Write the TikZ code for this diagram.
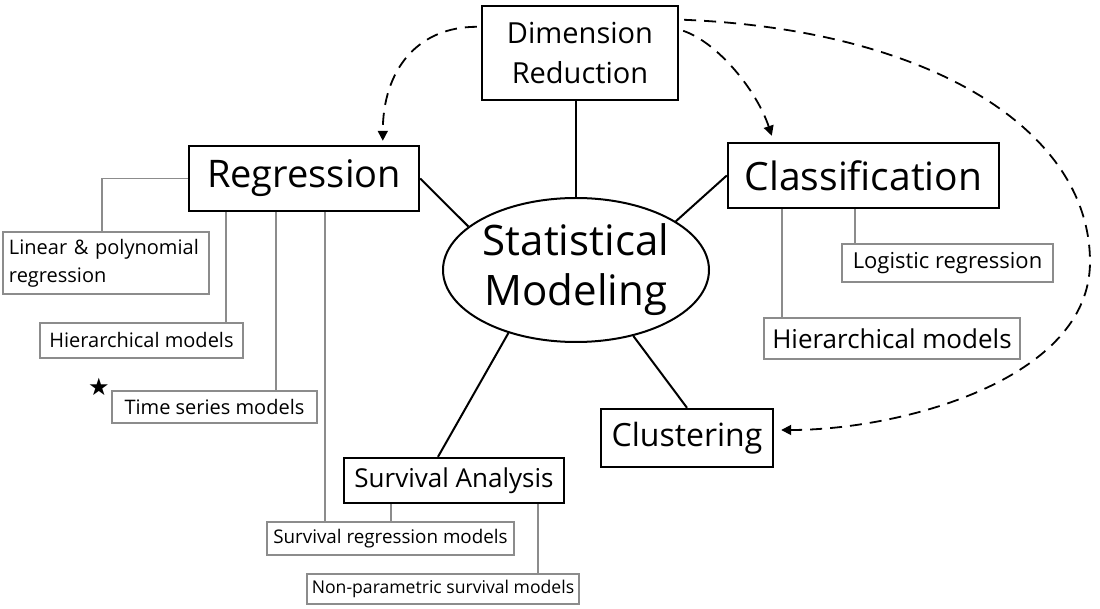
\documentclass[tikz,border=0pt]{standalone}
\usepackage{fontspec}
\setmainfont{Open Sans}
\newfontfamily\symfont{DejaVu Sans}
\usetikzlibrary{arrows.meta,positioning,calc,shapes.geometric}
\newcommand\fsz[2]{\fontsize{#1}{#2}\selectfont}
\tikzset{
  topic/.style={draw,line width=1.2pt,inner sep=0pt,align=center},
  leaf/.style={draw=black!45,line width=0.7pt,inner sep=0pt,align=center,font=\fsz{10}{14}},
  hub/.style={ellipse,draw,line width=1pt,inner sep=0pt,align=center},
  spoke/.style={line width=1pt},
  twig/.style={draw=black!45,line width=0.7pt},
  hint/.style={line width=0.9pt,dash pattern=on 6pt off 4pt,-{Triangle[length=5pt,width=5pt]}},
}

\begin{document}
\begin{tikzpicture}[x=0.5pt,y=-0.5pt]
  \fill[white] (0,0) rectangle (1100,609);
  \useasboundingbox (0,0) rectangle (1100,609);
  % centre and main topics
  \node[hub,minimum width=133pt,minimum height=72pt,font=\fsz{21}{25}] (stat) at (576,270) {Statistical\\Modeling};
  \node[topic,minimum width=98pt,minimum height=47pt,font=\fsz{14.5}{20}] (dimred) at (580,53) {Dimension\\Reduction};
  \node[topic,minimum width=115pt,minimum height=32.5pt,font=\fsz{19}{22}] (regr) at (304,178.5) {Regression};
  \node[topic,minimum width=135.5pt,minimum height=32.5pt,font=\fsz{19.5}{22}] (classif) at (863.5,175.5) {Classification};
  \node[topic,minimum width=86pt,minimum height=29pt,font=\fsz{16}{20}] (clust) at (687,438) {Clustering};
  \node[topic,minimum width=110pt,minimum height=22.5pt,font=\fsz{13}{15}] (survan) at (454,480.5) {Survival Analysis};
  % leaves
  \node[leaf,minimum width=103pt,minimum height=31pt,align=left,text width=97pt] (linreg) at (106,263) {Linear \& polynomial\\regression};
  \node[leaf,minimum width=101.5pt,minimum height=17.5pt] (hierL) at (141.5,340.5) {Hierarchical models};
  \node[leaf,minimum width=102.5pt,minimum height=16pt] (timeser) at (214.5,407) {Time series models};
  \node[leaf,minimum width=123.5pt,minimum height=16.5pt,font=\fsz{9.4}{12}] (survreg) at (390.5,538.5) {Survival regression models};
  \node[leaf,minimum width=136pt,minimum height=15pt,font=\fsz{8.8}{12}] (nonpar) at (443,589) {Non-parametric survival models};
  \node[leaf,minimum width=105.5pt,minimum height=19pt,font=\fsz{11}{14}] (logreg) at (947.5,263) {Logistic regression};
  \node[leaf,minimum width=128pt,minimum height=20.5pt,font=\fsz{13}{15}] (hierR) at (892,338.5) {Hierarchical models};
  \node[font=\symfont\fsz{12}{12},inner sep=0pt] (star) at (99,387) {★};

  % spokes
  \draw[spoke] (stat.north) -- (stat.north |- dimred.south);
  \draw[spoke] (regr.east) -- (stat.158);
  \draw[spoke] (classif.west) -- (stat.26);
  \draw[spoke] (survan.124) -- (stat.223);
  \draw[spoke] (clust.north) -- (stat.311);

  % twigs to the leaves
  \draw[twig] (regr.west) -| ([xshift=-2pt]linreg.north);
  \foreach \dx/\lf in {38/hierL,88/timeser,137/survreg}
    \draw[twig] ($(regr.south west)+(\dx,0)$) coordinate (t) -- (t |- \lf.north);
  \foreach \dx/\lf in {48/survreg,195/nonpar}
    \draw[twig] ($(survan.south west)+(\dx,0)$) coordinate (t) -- (t |- \lf.north);
  \foreach \dx/\lf in {55/hierR,128/logreg}
    \draw[twig] ($(classif.south west)+(\dx,0)$) coordinate (t) -- (t |- \lf.north);

  % dimension reduction feeds the others
  \coordinate (loop) at (1090,262);
  \draw[hint] ($(dimred.north west)+(-4,22)$) .. controls +(-60,0) and +(0,-70) .. ($(regr.north west)+(195,-4)$);
  \draw[hint] ($(dimred.north east)+(4,26)$) .. controls +(35,12) and +(-15,-45) .. ($(classif.north west)+(45,-6)$);
  \draw[hint] ($(dimred.north east)+(5,15)$) .. controls (930,30) and (1090,130) .. (loop)
    .. controls (1090,380) and (900,430) .. ($(clust.east)+(7,-8)$);
\end{tikzpicture}
\end{document}
